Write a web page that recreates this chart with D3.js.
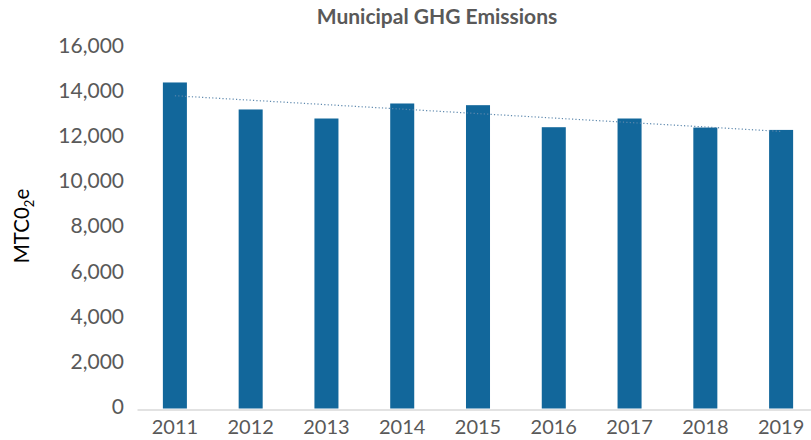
<!DOCTYPE html>
<html>
<head>
<meta charset="utf-8">
<script src="https://cdn.jsdelivr.net/npm/d3@7"></script>
<style>
  html, body { margin: 0; padding: 0; background: #fff; }
  svg { display: block; font-family: Lato, "Open Sans", sans-serif; }
</style>
</head>
<body>
<svg id="chart" width="811" height="440"></svg>
<script>
// Municipal GHG emissions by year (MTCO2e)
const years = ["2011", "2012", "2013", "2014", "2015", "2016", "2017", "2018", "2019"];
const emissions = [14430, 13235, 12835, 13500, 13425, 12450, 12835, 12435, 12330];
const yTicks = [0, 2000, 4000, 6000, 8000, 10000, 12000, 14000, 16000];

const svg = d3.select("#chart");
const margin = { left: 137, right: -8, top: 47, bottom: 31.5 };
const W = 811, H = 440;

const x = d3.scaleBand()
  .domain(years)
  .range([margin.left, W - margin.right])
  .paddingInner(0.683)
  .paddingOuter(0.3415);

const y = d3.scaleLinear()
  .domain([0, 16000])
  .range([H - margin.bottom, margin.top]);

// Title
svg.append("text")
  .attr("x", 437)
  .attr("y", 24)
  .attr("text-anchor", "middle")
  .attr("font-size", 21)
  .attr("font-weight", 700)
  .attr("fill", "#595959")
  .text("Municipal GHG Emissions");

// Y axis (labels only)
const yAxis = svg.append("g")
  .attr("transform", `translate(${margin.left - 13},-1.5)`)
  .call(d3.axisLeft(y).tickValues(yTicks).tickSize(0).tickPadding(0).tickFormat(d3.format(",")));
yAxis.select(".domain").remove();
yAxis.selectAll("text")
  .attr("font-family", "Lato, 'Open Sans', sans-serif")
  .attr("font-size", 21)
  .attr("fill", "#595959");

// Y axis title
const yTitle = svg.append("text")
  .attr("transform", `translate(29,226) rotate(-90)`)
  .attr("text-anchor", "middle")
  .attr("font-size", 20.5)
  .attr("fill", "#000");
yTitle.append("tspan").text("MTC0");
yTitle.append("tspan").attr("font-size", 13).attr("dy", 5).text("2");
yTitle.append("tspan").attr("dy", -5).text("e");

// Bars
svg.append("g")
  .selectAll("rect")
  .data(years)
  .join("rect")
  .attr("x", d => x(d))
  .attr("width", x.bandwidth())
  .attr("y", (d, i) => y(emissions[i]))
  .attr("height", (d, i) => y(0) - y(emissions[i]))
  .attr("fill", "#12679b");

// X axis
const xAxis = svg.append("g")
  .attr("transform", `translate(0,${y(0) + 1})`)
  .call(d3.axisBottom(x).tickSize(0).tickPadding(10));
xAxis.select(".domain").attr("stroke", "#d9d9d9").attr("stroke-width", 1.5);
xAxis.selectAll("text")
  .attr("font-family", "Lato, 'Open Sans', sans-serif")
  .attr("font-size", 20)
  .attr("fill", "#595959");

// Linear trendline (least squares over the yearly values)
const idx = d3.range(years.length);
const mx = d3.mean(idx), my = d3.mean(emissions);
const slope = d3.sum(idx, i => (i - mx) * (emissions[i] - my)) / d3.sum(idx, i => (i - mx) ** 2);
const intercept = my - slope * mx;
const cx = i => x(years[i]) + x.bandwidth() / 2;
svg.append("line")
  .attr("x1", cx(0))
  .attr("y1", y(intercept))
  .attr("x2", cx(years.length - 1))
  .attr("y2", y(intercept + slope * (years.length - 1)))
  .attr("stroke", "#5d88ad")
  .attr("stroke-width", 1.2)
  .attr("stroke-dasharray", "1.2,2.2");
</script>
</body>
</html>
